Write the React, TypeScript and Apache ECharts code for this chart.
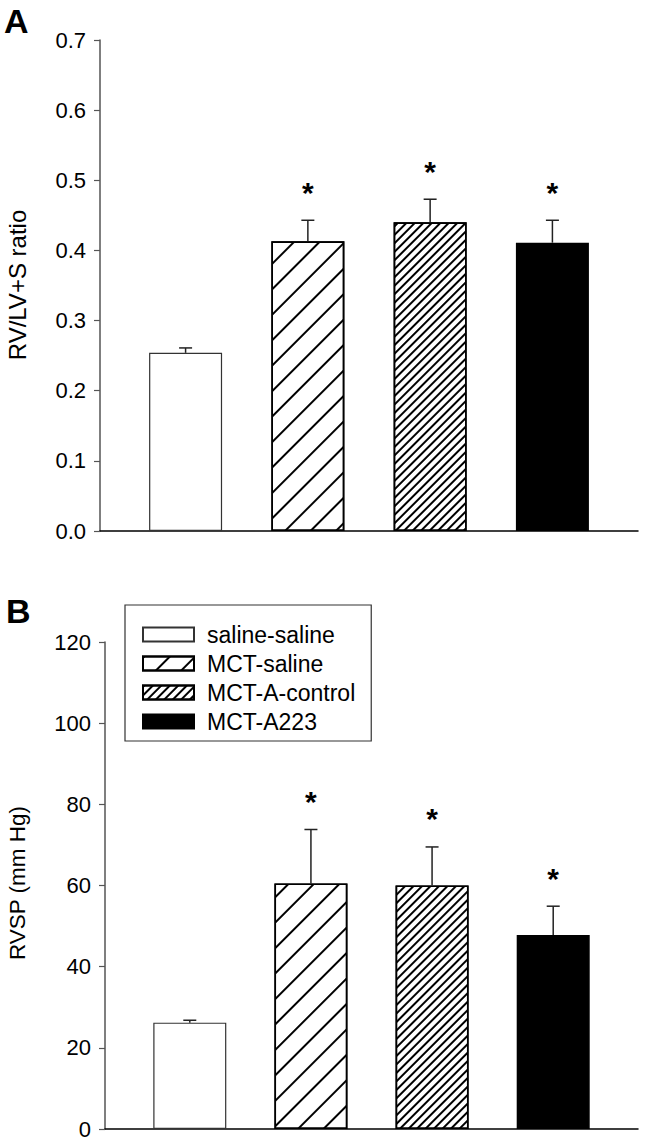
import { useEffect, useRef } from 'react';
import * as echarts from 'echarts';

const FONT = '"Liberation Sans", Arial, Helvetica, sans-serif';

const categories = ['saline-saline', 'MCT-saline', 'MCT-A-control', 'MCT-A223'];
const ratioMeans = [0.254, 0.413, 0.44, 0.411];
const ratioErrors = [0.007, 0.03, 0.033, 0.032];
const rvspMeans = [26.2, 60.5, 60.0, 47.8];
const rvspErrors = [0.6, 13.3, 9.5, 7.1];
const significant = [false, true, true, true];
const ratioAxis = { min: 0, max: 0.7, interval: 0.1 };
const rvspAxis = { min: 0, max: 120, interval: 20 };

const hatchWide = {
  symbol: 'rect', symbolSize: 1, dashArrayX: [1, 0], dashArrayY: [1.6, 16],
  rotation: -Math.PI / 4, color: '#000',
};
const hatchDense = {
  symbol: 'rect', symbolSize: 1, dashArrayX: [1, 0], dashArrayY: [1.3, 3.3],
  rotation: -Math.PI / 4, color: '#000',
};
const barStyles: any[] = [
  { color: '#fff', borderColor: '#333', borderWidth: 1.2 },
  { color: '#fff', borderColor: '#000', borderWidth: 1.6, decal: hatchWide },
  { color: '#fff', borderColor: '#000', borderWidth: 1.6, decal: hatchDense },
  { color: '#000', borderColor: '#000', borderWidth: 1.6 },
];

function errorRenderer(params: any, api: any) {
  const x = api.value(0);
  const m = api.value(1);
  const e = api.value(2);
  const s = api.value(3);
  const p0 = api.coord([x, m]);
  const p1 = api.coord([x, m + e]);
  const lineStyle = { stroke: '#222', lineWidth: 1.5 };
  const children: any[] = [
    { type: 'line', shape: { x1: p0[0], y1: p0[1], x2: p1[0], y2: p1[1] }, style: lineStyle },
    { type: 'line', shape: { x1: p1[0] - 6.5, y1: p1[1], x2: p1[0] + 6.5, y2: p1[1] }, style: lineStyle },
  ];
  if (s) {
    children.push({
      type: 'text',
      x: p1[0],
      y: p1[1] - 28,
      style: { text: '*', fontSize: 30, fontWeight: 'bold', fontFamily: FONT, fill: '#000', align: 'center', verticalAlign: 'middle' },
    });
  }
  return { type: 'group', children };
}

function panelSeries(p: number, means: number[], errs: number[]) {
  const bars = categories.map((name, i) => ({
    type: 'bar',
    name,
    xAxisIndex: p,
    yAxisIndex: p,
    data: [[i + 1, means[i]]],
    barWidth: 73,
    barGap: '-100%',
    itemStyle: barStyles[i],
    emphasis: { disabled: true },
    z: 2,
  }));
  const err = {
    type: 'custom',
    xAxisIndex: p,
    yAxisIndex: p,
    data: means.map((m, i) => [i + 1, m, errs[i], significant[i] ? 1 : 0]),
    renderItem: errorRenderer,
    clip: false,
    silent: true,
    z: 3,
  };
  return [...bars, err];
}

function yAxisOf(grid: number, ax: any, digits: number) {
  return {
    gridIndex: grid,
    type: 'value',
    min: ax.min,
    max: ax.max,
    interval: ax.interval,
    axisLine: { show: true, lineStyle: { color: '#555', width: 1.5 } },
    axisTick: { show: true, length: 6, lineStyle: { color: '#555', width: 1.2 } },
    axisLabel: {
      formatter: (v: number) => v.toFixed(digits),
      fontSize: 22, color: '#000', fontFamily: FONT, margin: 14,
    },
    splitLine: { show: false },
  };
}

function xAxisOf(grid: number) {
  return {
    gridIndex: grid,
    type: 'value',
    min: 0.3,
    max: 4.7,
    axisLine: { show: true, lineStyle: { color: '#000', width: 1.5 } },
    axisTick: { show: false },
    axisLabel: { show: false },
    splitLine: { show: false },
  };
}

export default function App() {
  const ref = useRef<HTMLDivElement>(null);
  useEffect(() => {
    if (!ref.current) return;
    const chart = echarts.init(ref.current, undefined, { renderer: 'svg' });
    chart.setOption({
      animation: false,
      backgroundColor: '#fff',
      grid: [
        { left: 100, top: 40, width: 538, height: 491 },
        { left: 105, top: 642, width: 533, height: 487 },
      ],
      xAxis: [xAxisOf(0), xAxisOf(1)],
      yAxis: [yAxisOf(0, ratioAxis, 1), yAxisOf(1, rvspAxis, 0)],
      legend: {
        show: true,
        orient: 'vertical',
        left: 125,
        top: 605,
        data: categories,
        icon: 'rect',
        itemWidth: 51,
        itemHeight: 14,
        itemGap: 6,
        borderColor: '#333',
        borderWidth: 1.2,
        padding: [18, 16, 8, 17],
        selectedMode: false,
        textStyle: { fontSize: 23, color: '#000', fontFamily: FONT, padding: [0, 0, 0, 8] },
      },
      series: [...panelSeries(0, ratioMeans, ratioErrors), ...panelSeries(1, rvspMeans, rvspErrors)],
      graphic: [
        { type: 'text', left: 4, top: 4, style: { text: 'A', fontSize: 34, fontWeight: 'bold', fontFamily: FONT, fill: '#000' } },
        { type: 'text', left: 6, top: 594, style: { text: 'B', fontSize: 34, fontWeight: 'bold', fontFamily: FONT, fill: '#000' } },
        {
          type: 'text', x: 17, y: 285, rotation: Math.PI / 2,
          style: { text: 'RV/LV+S ratio', fontSize: 24, fontFamily: FONT, fill: '#000', align: 'center', verticalAlign: 'middle' },
        },
        {
          type: 'text', x: 17, y: 883, rotation: Math.PI / 2,
          style: { text: 'RVSP (mm Hg)', fontSize: 22.5, fontFamily: FONT, fill: '#000', align: 'center', verticalAlign: 'middle' },
        },
      ],
    });
    return () => chart.dispose();
  }, []);
  return <div ref={ref} style={{ position: 'absolute', left: 0, top: 0, width: 647, height: 1140 }} />;
}
